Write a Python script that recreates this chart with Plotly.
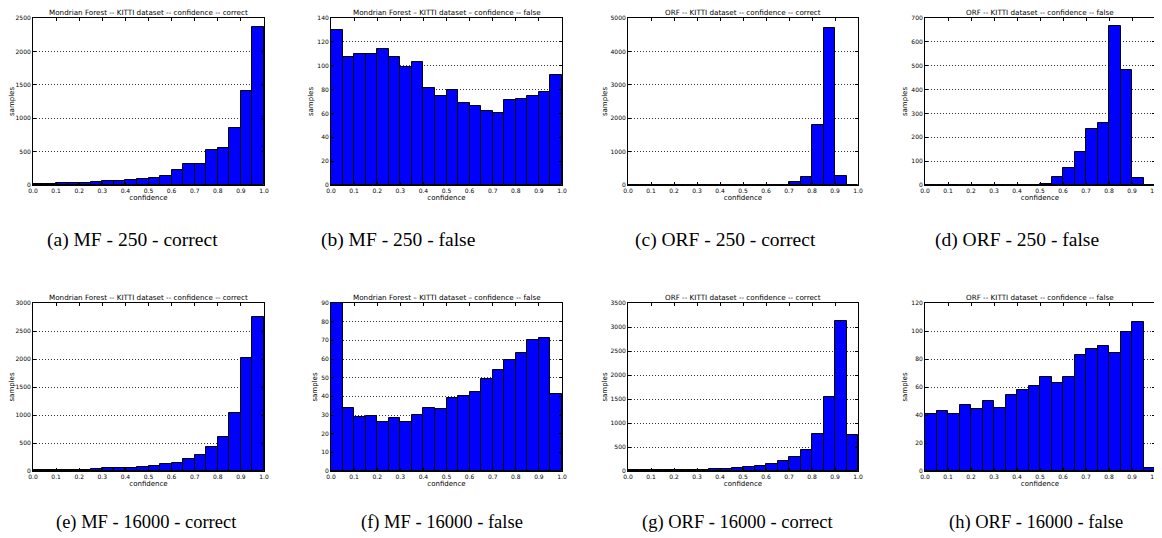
import plotly.graph_objects as go

# page body has an 8px margin; figure is sized to fill the rest of the 1162x538 window
OFF = 8
W, H = 1162 - OFF, 538 - OFF

bin_edges = [round(i * 0.05, 2) for i in range(21)]
x_ticks = [round(i * 0.1, 1) for i in range(11)]

mf250_correct = [20, 15, 25, 25, 35, 40, 55, 60, 75, 90, 110, 135, 220, 310, 320, 530, 550, 850, 1400, 2360]
mf250_false = [130, 107, 110, 110, 114, 107, 99, 103, 81, 75, 80, 69, 66, 62, 60, 71, 72, 75, 78, 92]
orf250_correct = [0, 0, 0, 0, 0, 0, 0, 0, 0, 0, 0, 0, 0, 0, 90, 230, 1800, 4700, 280, 0]
orf250_false = [0, 0, 0, 0, 0, 0, 0, 0, 0, 0, 5, 35, 72, 140, 235, 260, 668, 483, 30, 0]
mf16000_correct = [10, 10, 15, 20, 25, 30, 45, 50, 60, 70, 90, 120, 150, 210, 280, 430, 610, 1040, 2010, 2750]
mf16000_false = [90, 34, 29, 29.5, 26, 28.5, 26.5, 30, 34, 33, 39, 40, 42.5, 49.5, 54, 59.5, 63, 70, 71, 41.5]
orf16000_correct = [15, 15, 15, 15, 20, 30, 30, 35, 45, 60, 75, 100, 140, 200, 290, 440, 770, 1540, 3120, 760]
orf16000_false = [41, 43, 41, 47, 44.5, 50, 45, 54, 58, 61, 67, 63, 67, 83, 87, 89, 84, 99, 106.5, 2]

titles = [
    "Mondrian Forest -- KITTI dataset -- confidence -- correct",
    "Mondrian Forest – KITTI dataset – confidence -- false",
    "ORF -- KITTI dataset -- confidence -- correct",
    "ORF -- KITTI dataset -- confidence -- false",
    "Mondrian Forest -- KITTI dataset -- confidence -- correct",
    "Mondrian Forest – KITTI dataset – confidence -- false",
    "ORF -- KITTI dataset -- confidence -- correct",
    "ORF -- KITTI dataset -- confidence -- false",
]
captions = [
    "(a) MF - 250 - correct", "(b) MF - 250 - false",
    "(c) ORF - 250 - correct", "(d) ORF - 250 - false",
    "(e) MF - 16000 - correct", "(f) MF - 16000 - false",
    "(g) ORF - 16000 - correct", "(h) ORF - 16000 - false",
]
series = [mf250_correct, mf250_false, orf250_correct, orf250_false,
          mf16000_correct, mf16000_false, orf16000_correct, orf16000_false]
y_max = [2500, 140, 5000, 700, 3000, 90, 3500, 120]
y_step = [500, 20, 1000, 100, 500, 10, 500, 20]

# layout in window pixels
x_spans = [(33, 264), (331, 562), (628, 858), (925, 1155)]
y_spans = [(18, 185), (303, 471)]
caption_x = [[132, 398, 725, 1017], [146, 442, 737, 1036]]
caption_y = [240, 522]
caption_size = [19.5, 18.5]


def px(x):
    return (x - OFF) / W


def py(y):
    return 1 - (y - OFF) / H


fig = go.Figure()
annotations = []
layout = {}
centers = [round((bin_edges[i] + bin_edges[i + 1]) / 2, 3) for i in range(20)]

for k in range(8):
    r, c = divmod(k, 4)
    n = k + 1
    xa = "x" if n == 1 else f"x{n}"
    ya = "y" if n == 1 else f"y{n}"
    fig.add_trace(go.Bar(
        x=centers, y=series[k], width=0.05,
        marker=dict(color="#0000FF", line=dict(color="black", width=1)),
        xaxis=xa, yaxis=ya, showlegend=False,
    ))
    x0, x1 = x_spans[c]
    yt, yb = y_spans[r]
    tick_font = dict(family="DejaVu Sans", size=6, color="black")
    layout["xaxis" if n == 1 else f"xaxis{n}"] = dict(
        domain=[px(x0), px(x1)], anchor=ya, range=[0, 1], automargin=False,
        tickvals=x_ticks, ticktext=[f"{v:.1f}" for v in x_ticks],
        ticks="inside", ticklen=3, tickcolor="black", showgrid=False,
        showline=True, linecolor="black", linewidth=1, mirror="ticks",
        tickfont=tick_font, zeroline=False,
        title=dict(text="confidence", font=dict(family="DejaVu Sans", size=7, color="black"), standoff=1),
    )
    yv = list(range(0, y_max[k] + 1, y_step[k]))
    layout["yaxis" if n == 1 else f"yaxis{n}"] = dict(
        domain=[py(yb), py(yt)], anchor=xa, range=[0, y_max[k]], automargin=False,
        tickvals=yv, ticks="inside", ticklen=3, tickcolor="black",
        showgrid=True, gridcolor="#333333", griddash="1px,2px", gridwidth=0.8,
        showline=True, linecolor="black", linewidth=1, mirror="ticks",
        tickfont=tick_font, zeroline=False,
        title=dict(text="samples", font=dict(family="DejaVu Sans", size=7, color="black"), standoff=2),
    )
    annotations.append(dict(
        text=titles[k], xref="paper", yref="paper",
        x=px((x0 + x1) / 2), y=py(yt - 0.5), xanchor="center", yanchor="bottom",
        showarrow=False, borderpad=0,
        font=dict(family="DejaVu Sans", size=7.2, color="black"),
    ))
    annotations.append(dict(
        text=captions[k], xref="paper", yref="paper",
        x=px(caption_x[r][c]), y=py(caption_y[r]), xanchor="center", yanchor="middle",
        showarrow=False, font=dict(family="Liberation Serif", size=caption_size[r], color="black"),
    ))

fig.update_layout(
    width=W, height=H, margin=dict(l=0, r=0, t=0, b=0, autoexpand=False),
    paper_bgcolor="white", plot_bgcolor="white",
    bargap=0, annotations=annotations, **layout,
)
fig.write_html("out.html")
